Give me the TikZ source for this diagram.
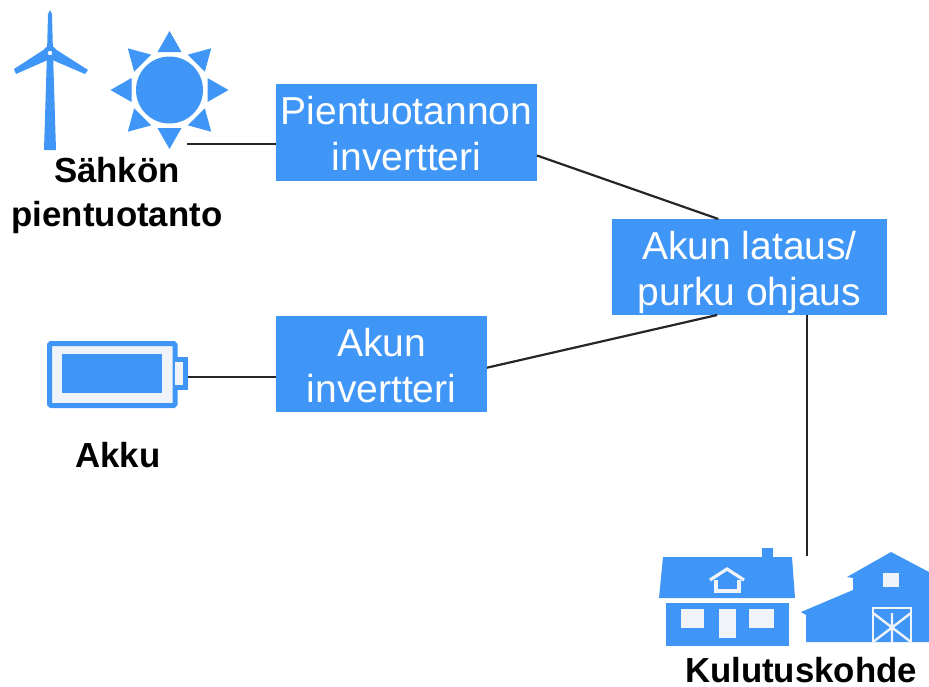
\documentclass[tikz,border=0pt]{standalone}
\usepackage{fontspec}
\setmainfont{Liberation Sans}
\definecolor{iconblue}{RGB}{64,150,247}
\definecolor{iconpale}{RGB}{240,243,247}
\tikzset{
  boxnode/.style={fill=iconblue, text=white, align=center, inner sep=0pt, outer sep=0pt, text height=80pt, text depth=4pt, font=\fontsize{39}{46}\selectfont},
  labelnode/.style={align=center, inner sep=0pt, font=\fontsize{34.8}{44}\selectfont\bfseries},
  wire/.style={line width=2.2pt, black!85}
}
\begin{document}
\begin{tikzpicture}[x=1pt, y=-1pt]
\useasboundingbox (0, 0) rectangle (929, 686);
\node [boxnode, minimum width=261pt, minimum height=97pt] (pien) at (406.5, 132.5) {Pientuotannon\\invertteri};
\node [boxnode, minimum width=211pt, minimum height=96pt] (akkuinv) at (381.5, 364) {Akun\\invertteri};
\node [boxnode, minimum width=275pt, minimum height=96pt] (ohjaus) at (749.5, 267) {Akun lataus/\\purku ohjaus};
\node [labelnode] (tuotanto) at (117, 195) {Sähkön\\pientuotanto};
\node [labelnode] (akku) at (118, 455) {Akku};
\node [labelnode] (kohde) at (801, 670) {Kulutuskohde};
\coordinate (aurinko) at (187, 144);
\coordinate (napa) at (188, 377);
\coordinate (talo) at (807, 556);
\draw [wire] (aurinko) -- (aurinko -| pien.west);
\draw [wire] (napa) -- (napa -| akkuinv.west);
\draw [wire] (pien.-10.2) -- (ohjaus.123.3);
\draw [wire] (akkuinv.-2.7) -- (ohjaus.236.7);
\draw [wire] (talo |- ohjaus.south) -- (talo);
\fill [iconblue] (44, 150) -- (56, 150) -- (53, 53) -- (52, 14) -- (50, 10) -- (48, 14) -- (47, 53) -- cycle;
\fill [iconblue] (48, 47) -- (14, 69) -- (16, 74) -- (50, 59) -- cycle;
\fill [iconblue] (52, 47) -- (88, 70) -- (85, 74) -- (50, 59) -- cycle;
\fill [iconblue] (50, 53) circle (7);
\fill [white] (50, 53) circle (2.2);
\fill [iconblue] (169.5, 90) circle (33.5);
\foreach \a in {0, 45, ..., 315}
  \fill [iconblue, shift={(169.5, 90)}, rotate=\a] (0, -59) -- (12, -38) -- (-12, -38) -- cycle;
\draw [iconblue, line width=5pt, fill=iconpale, rounded corners=1.5pt] (49.5, 343.5) rectangle (175, 405.5);
\draw [iconblue, line width=5pt, fill=iconpale] (175, 359.5) -- (185.5, 359.5) -- (185.5, 387.5) -- (175, 387.5);
\fill [iconblue] (62, 354) rectangle (162, 393);
\fill [iconblue] (663, 557) -- (792, 557) -- (795, 598) -- (659, 598) -- cycle;
\fill [iconblue] (762, 548) rectangle (773, 557);
\fill [iconblue] (666, 603) rectangle (789, 646);
\fill [iconpale] (681, 609) rectangle (704, 628);
\fill [iconpale] (719, 609) rectangle (736, 638);
\fill [iconpale] (749, 609) rectangle (774, 628);
\draw [iconpale, line width=3.2pt] (710, 580) -- (727, 569) -- (744, 580);
\draw [iconpale, line width=3.2pt] (716, 580) -- (716, 591) -- (739, 591) -- (739, 580);
\fill [iconblue] (801, 612) -- (853, 590) -- (853, 578) -- (847, 577) -- (891, 552) -- (929, 572) -- (929, 642) -- (806, 642) -- (806, 615) -- cycle;
\fill [iconpale] (883, 573) rectangle (899, 587);
\draw [iconpale, line width=2.4pt] (873, 642) -- (873, 608) -- (911, 608) -- (911, 642);
\draw [iconpale, line width=2.4pt] (873, 613) -- (911, 642) (911, 613) -- (873, 642) (892, 613) -- (892, 642);
\end{tikzpicture}
\end{document}
